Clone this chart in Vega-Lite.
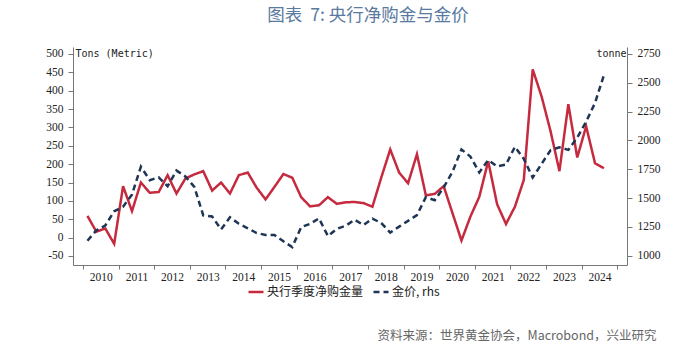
{
  "$schema": "https://vega.github.io/schema/vega-lite/v6.json",
  "width": 554,
  "height": 218,
  "autosize": {"type": "none"},
  "padding": {"left": 73, "top": 47, "right": 73, "bottom": 95},
  "background": "white",
  "title": {"text": "图表\u00a0\u00a07: 央行净购金与金价", "frame": "group", "anchor": "middle", "dx": 18, "offset": 23, "font": "Noto Sans CJK SC", "fontSize": 17.5, "fontWeight": "normal", "color": "#5a7aa0"},
  "data": {"values": [
    {"t": 2010.125, "cb": 59, "gold": 1130},
    {"t": 2010.375, "cb": 16, "gold": 1220},
    {"t": 2010.625, "cb": 25, "gold": 1262},
    {"t": 2010.875, "cb": -17, "gold": 1385},
    {"t": 2011.125, "cb": 140, "gold": 1425},
    {"t": 2011.375, "cb": 72, "gold": 1530},
    {"t": 2011.625, "cb": 150, "gold": 1772},
    {"t": 2011.875, "cb": 122, "gold": 1655},
    {"t": 2012.125, "cb": 124, "gold": 1680},
    {"t": 2012.375, "cb": 170, "gold": 1603},
    {"t": 2012.625, "cb": 120, "gold": 1738},
    {"t": 2012.875, "cb": 161, "gold": 1688},
    {"t": 2013.125, "cb": 172, "gold": 1597},
    {"t": 2013.375, "cb": 181, "gold": 1350},
    {"t": 2013.625, "cb": 128, "gold": 1340},
    {"t": 2013.875, "cb": 150, "gold": 1228},
    {"t": 2014.125, "cb": 120, "gold": 1333},
    {"t": 2014.375, "cb": 170, "gold": 1277},
    {"t": 2014.625, "cb": 177, "gold": 1238},
    {"t": 2014.875, "cb": 136, "gold": 1197},
    {"t": 2015.125, "cb": 104, "gold": 1180},
    {"t": 2015.375, "cb": 138, "gold": 1180},
    {"t": 2015.625, "cb": 173, "gold": 1125},
    {"t": 2015.875, "cb": 163, "gold": 1075},
    {"t": 2016.125, "cb": 110, "gold": 1248},
    {"t": 2016.375, "cb": 85, "gold": 1276},
    {"t": 2016.625, "cb": 88, "gold": 1324},
    {"t": 2016.875, "cb": 110, "gold": 1170},
    {"t": 2017.125, "cb": 92, "gold": 1233},
    {"t": 2017.375, "cb": 96, "gold": 1260},
    {"t": 2017.625, "cb": 97, "gold": 1312},
    {"t": 2017.875, "cb": 94, "gold": 1266},
    {"t": 2018.125, "cb": 84, "gold": 1322},
    {"t": 2018.375, "cb": 164, "gold": 1283},
    {"t": 2018.625, "cb": 240, "gold": 1200},
    {"t": 2018.875, "cb": 177, "gold": 1252},
    {"t": 2019.125, "cb": 148, "gold": 1302},
    {"t": 2019.375, "cb": 227, "gold": 1352},
    {"t": 2019.625, "cb": 115, "gold": 1508},
    {"t": 2019.875, "cb": 119, "gold": 1482},
    {"t": 2020.125, "cb": 140, "gold": 1592},
    {"t": 2020.375, "cb": 66, "gold": 1730},
    {"t": 2020.625, "cb": -8, "gold": 1922},
    {"t": 2020.875, "cb": 57, "gold": 1860},
    {"t": 2021.125, "cb": 111, "gold": 1722},
    {"t": 2021.375, "cb": 208, "gold": 1830},
    {"t": 2021.625, "cb": 91, "gold": 1775},
    {"t": 2021.875, "cb": 37, "gold": 1790},
    {"t": 2022.125, "cb": 84, "gold": 1945},
    {"t": 2022.375, "cb": 157, "gold": 1840},
    {"t": 2022.625, "cb": 458, "gold": 1678},
    {"t": 2022.875, "cb": 384, "gold": 1797},
    {"t": 2023.125, "cb": 290, "gold": 1915},
    {"t": 2023.375, "cb": 181, "gold": 1940},
    {"t": 2023.625, "cb": 363, "gold": 1918},
    {"t": 2023.875, "cb": 218, "gold": 2025},
    {"t": 2024.125, "cb": 303, "gold": 2162},
    {"t": 2024.375, "cb": 202, "gold": 2326},
    {"t": 2024.625, "cb": 189, "gold": 2568}
  ]},
  "transform": [{"fold": ["cb", "gold"], "as": ["s", "v"]}],
  "encoding": {
    "x": {
      "field": "t", "type": "quantitative",
      "scale": {"domain": [2009.719, 2025.272], "nice": false, "zero": false},
      "axis": {
        "values": [2010, 2010.5, 2011, 2011.5, 2012, 2012.5, 2013, 2013.5, 2014, 2014.5, 2015, 2015.5, 2016, 2016.5, 2017, 2017.5, 2018, 2018.5, 2019, 2019.5, 2020, 2020.5, 2021, 2021.5, 2022, 2022.5, 2023, 2023.5, 2024, 2024.5, 2025],
        "labelExpr": "datum.value % 1 == 0 ? '' : '' + floor(datum.value)",
        "tickOpacity": {"condition": {"test": "datum.value % 1 != 0", "value": 0}, "value": 1},
        "tickSize": 4, "labelPadding": 2, "grid": false,
        "labelFont": "Liberation Serif", "labelFontSize": 11.5, "labelColor": "#222",
        "labelOverlap": false, "labelFlush": false,
        "domainColor": "#777", "tickColor": "#777",
        "title": "资料来源：世界黄金协会，Macrobond，兴业研究",
        "titleX": 304, "titleY": 70, "titleAlign": "left", "titleBaseline": "middle", "titleAnchor": null,
        "titleFont": "Noto Sans CJK SC", "titleFontSize": 12.5, "titleFontWeight": "normal", "titleColor": "#666"
      }
    },
    "color": {
      "field": "s", "type": "nominal",
      "scale": {"domain": ["cb", "gold"], "range": ["#c52a3e", "#1f3556"]},
      "legend": {"title": null, "orient": "none", "legendX": 174, "legendY": 236, "direction": "horizontal", "symbolType": "stroke", "symbolSize": 225, "symbolStrokeWidth": 2.5, "labelFont": "Noto Sans CJK SC", "labelFontSize": 12, "labelColor": "#222", "columnPadding": 4, "labelOffset": 2, "labelExpr": "datum.label == 'cb' ? '央行季度净购金量' : '金价, rhs'"}
    },
    "strokeDash": {
      "field": "s", "type": "nominal",
      "scale": {"domain": ["cb", "gold"], "range": [[1, 0], [6, 4]]},
      "legend": {"title": null, "orient": "none", "legendX": 174, "legendY": 236, "direction": "horizontal", "symbolType": "stroke", "symbolSize": 225, "symbolStrokeWidth": 2.5, "labelFont": "Noto Sans CJK SC", "labelFontSize": 12, "labelColor": "#222", "columnPadding": 4, "labelOffset": 2, "labelExpr": "datum.label == 'cb' ? '央行季度净购金量' : '金价, rhs'"}
    }
  },
  "layer": [
    {
      "transform": [{"filter": "datum.s == 'cb'"}],
      "mark": {"type": "line", "strokeWidth": 2.5},
      "encoding": {
        "y": {
          "field": "v", "type": "quantitative",
          "scale": {"domain": [-74.6, 518.9], "nice": false, "zero": false},
          "axis": {
            "orient": "left", "values": [-50, 0, 50, 100, 150, 200, 250, 300, 350, 400, 450, 500],
            "labelExpr": "'' + datum.value",
            "title": "Tons (Metric)", "titleAngle": 0, "titleAlign": "left", "titleBaseline": "middle", "titleX": 2, "titleY": 6,
            "titleFont": "DejaVu Sans Mono", "titleFontSize": 10, "titleFontWeight": "normal", "titleColor": "#222",
            "tickSize": 5, "labelPadding": 5, "grid": false,
            "labelFont": "Liberation Serif", "labelFontSize": 11.5, "labelColor": "#222",
            "domainColor": "#777", "tickColor": "#777"
          }
        }
      }
    },
    {
      "transform": [{"filter": "datum.s == 'gold'"}],
      "mark": {"type": "line", "strokeWidth": 2.5},
      "encoding": {
        "y": {
          "field": "v", "type": "quantitative",
          "scale": {"domain": [919.3, 2810.7], "nice": false, "zero": false},
          "axis": {
            "orient": "right", "values": [1000, 1250, 1500, 1750, 2000, 2250, 2500, 2750],
            "labelExpr": "'' + datum.value",
            "title": "tonne", "titleAngle": 0, "titleAlign": "right", "titleBaseline": "middle", "titleX": -1, "titleY": 6,
            "titleFont": "DejaVu Sans Mono", "titleFontSize": 10, "titleFontWeight": "normal", "titleColor": "#222",
            "tickSize": 5, "labelPadding": 5, "grid": false,
            "labelFont": "Liberation Serif", "labelFontSize": 11.5, "labelColor": "#222",
            "domainColor": "#777", "tickColor": "#777"
          }
        }
      }
    }
  ],
  "resolve": {"scale": {"y": "independent"}},
  "config": {"view": {"stroke": null}}
}
